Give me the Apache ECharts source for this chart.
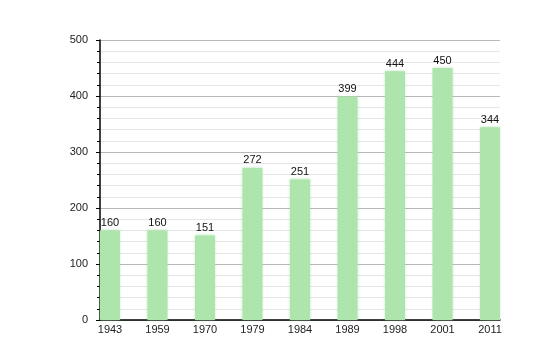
<!DOCTYPE html>
<html><head><meta charset="utf-8">
<script src="https://cdn.jsdelivr.net/npm/echarts@6/dist/echarts.min.js"></script>
<style>html,body{margin:0;padding:0;background:#fff}#c{width:540px;height:360px}</style>
</head><body><div id="c"></div>
<script>
const years = ['1943','1959','1970','1979','1984','1989','1998','2001','2011'];
const population = [160,160,151,272,251,399,444,450,344];
const yTicks = [0,100,200,300,400,500];

const chart = echarts.init(document.getElementById('c'), null, {renderer:'canvas'});
const idx = years.map((_, i) => i);
chart.setOption({
  animation: false,
  grid: {left: 100, right: 40, top: 40, bottom: 40, containLabel: false},
  xAxis: {
    type: 'value', min: -0.2105, max: 8.2105,
    axisLine: {show: true, onZero: false, lineStyle: {color: '#000', width: 1.5}},
    axisTick: {show: false},
    splitLine: {show: false},
    axisLabel: {customValues: idx, formatter: v => years[Math.round(v)] || '', color: '#222', fontSize: 11, fontFamily: 'Liberation Sans, Arial', margin: 4}
  },
  yAxis: {
    type: 'value', min: 0, max: 500, interval: 100,
    axisLine: {show: true, onZero: false, lineStyle: {color: '#000', width: 1.5}},
    axisTick: {show: true, inside: false, length: 4, lineStyle: {color: '#000'}},
    minorTick: {show: true, splitNumber: 5, length: 3, lineStyle: {color: '#000'}},
    splitLine: {show: true, lineStyle: {color: '#b8b8b8'}},
    minorSplitLine: {show: true, lineStyle: {color: '#e6e6e6'}},
    axisLabel: {color: '#222', fontSize: 11, fontFamily: 'Liberation Sans, Arial', margin: 12,
      customValues: yTicks}
  },
  series: [{
    type: 'bar',
    data: population.map((v, i) => [i, v]),
    barWidth: 20,
    itemStyle: {color: '#ade5ad', shadowBlur: 3, shadowColor: 'rgba(150,215,150,0.6)'},
    label: {show: true, position: 'top', distance: 2, color: '#111', fontSize: 11, fontFamily: 'Liberation Sans, Arial'}
  }]
});
</script></body></html>
